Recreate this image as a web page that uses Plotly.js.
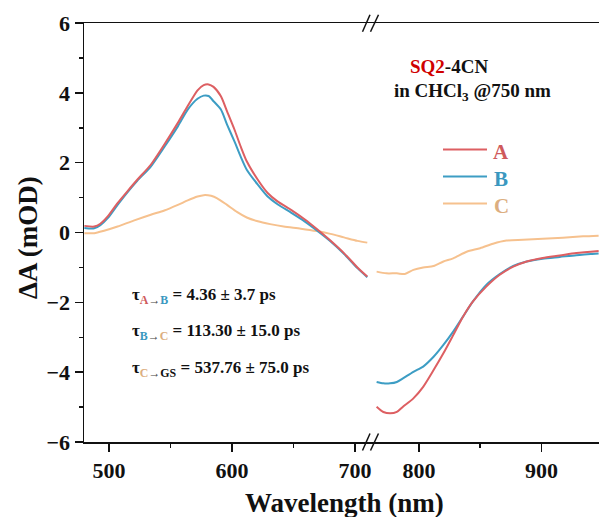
<!DOCTYPE html>
<html><head><meta charset="utf-8">
<script src="https://cdn.plot.ly/plotly-3.0.1.min.js"></script>
<style>html,body{margin:0;padding:0;background:#fff}#chart{width:599px;height:517px}</style>
</head><body><div id="chart"></div>
<script>
// ---- data ----
const seriesNames = ["A", "B", "C"];
const wlLeftAB = [480,488,493,499,507,515,523,534,545,556,564,572,577,581,585,591,596,602,607,612,621,629,637,648,659,669,680,691,702,710];
const aLeft = [0.19,0.17,0.25,0.46,0.84,1.18,1.51,1.94,2.52,3.14,3.62,4.07,4.22,4.24,4.17,3.90,3.47,2.95,2.47,2.04,1.51,1.13,0.89,0.65,0.38,0.10,-0.23,-0.59,-1.00,-1.26];
const bLeft = [0.13,0.12,0.21,0.41,0.79,1.15,1.48,1.89,2.45,3.04,3.52,3.83,3.92,3.91,3.76,3.52,3.09,2.61,2.18,1.80,1.37,1.03,0.81,0.57,0.32,0.06,-0.25,-0.61,-1.02,-1.28];
const wlLeftC = [480,488,496,507,520,534,545,556,564,572,577,583,588,596,604,612,621,631,642,656,669,680,691,702,710];
const cLeft = [-0.02,-0.02,0.05,0.17,0.34,0.51,0.63,0.79,0.92,1.03,1.07,1.05,0.98,0.79,0.59,0.43,0.32,0.24,0.17,0.11,0.04,-0.04,-0.14,-0.24,-0.29];
const wlRightAB = [765.5,771,776.5,782,787,795.5,803.5,812,820,828,836,844,855,866,877,888,901,915,928.5,946.7];
const aRight = [-4.99,-5.14,-5.18,-5.14,-4.99,-4.75,-4.42,-3.94,-3.46,-2.94,-2.41,-1.98,-1.55,-1.21,-0.98,-0.83,-0.73,-0.66,-0.59,-0.53];
const bRight = [-4.28,-4.32,-4.32,-4.28,-4.18,-3.99,-3.84,-3.56,-3.22,-2.84,-2.41,-1.98,-1.50,-1.19,-0.96,-0.83,-0.75,-0.70,-0.65,-0.60];
const wlRightC = [765.5,773.5,782,788.5,795.5,803.5,812,820,828,839,850,860.5,871.5,885,901,917.5,934,946.7];
const cRight = [-1.12,-1.17,-1.17,-1.19,-1.07,-1.00,-0.96,-0.83,-0.74,-0.55,-0.45,-0.32,-0.23,-0.21,-0.18,-0.15,-0.11,-0.09];
const yTickVals = [-6,-4,-2,0,2,4,6];
const xTickLeft = [500,600,700];
const xTickRight = [800,900];
const titleLine1 = "SQ2";
const titleLine1b = "-4CN";
const titleLine2 = "in CHCl<sub>3</sub> @750 nm";
const tauLines = [
  {from:"A", to:"B", text:" = 4.36 ± 3.7 ps"},
  {from:"B", to:"C", text:" = 113.30 ± 15.0 ps"},
  {from:"C", to:"GS", text:" = 537.76 ± 75.0 ps"}
];

// ---- styles ----
const lineCol = {A:"#dd5f62", B:"#3d9dc4", C:"#f6c18e"};
const labelCol = {A:"#cf5a5c", B:"#3a98c0", C:"#dcae80", GS:"#111"};
const FONT = "Liberation Serif, Times New Roman, serif";
const W = 599, H = 517, ML = 84, MR = 0, MT = 23, MB = 75;
const PW = W - ML - MR, PH = H - MT - MB;
const px = x => (x - ML) / PW;
const py = y => (H - MB - y) / PH;
const split = px(370);

function tr(x, y, name, xa) {
  return {x: x, y: y, type: "scatter", mode: "lines", xaxis: xa, yaxis: "y",
    line: {color: lineCol[name], width: 2, shape: "spline", smoothing: 0.7},
    hoverinfo: "skip", showlegend: false};
}
const data = [
  tr(wlLeftC, cLeft, "C", "x"), tr(wlLeftAB, bLeft, "B", "x"), tr(wlLeftAB, aLeft, "A", "x"),
  tr(wlRightC, cRight, "C", "x2"), tr(wlRightAB, bRight, "B", "x2"), tr(wlRightAB, aRight, "A", "x2")
];

const tickFont = {family: FONT, size: 22, color: "#111", weight: 700};
const axCommon = {showline: true, linecolor: "#111", linewidth: 1.5, ticks: "outside", ticklen: 8,
  tickwidth: 1.5, tickcolor: "#111", tickfont: tickFont, showgrid: false, zeroline: false, mirror: true};

const annotations = [];
const shapes = [];
function ann(text, x, y, size, opts) {
  annotations.push(Object.assign({text: text, x: px(x), y: py(y), xref: "paper", yref: "paper",
    showarrow: false, xanchor: "center", yanchor: "middle",
    font: {family: FONT, size: size, color: "#111", weight: 700}}, opts || {}));
}
ann("<span style='color:#d00000'>" + titleLine1 + "</span>" + titleLine1b, 449, 67, 19);
ann(titleLine2, 472, 92, 19);
// legend
const legY = [149.5, 176.5, 203.5];
seriesNames.forEach((n, i) => {
  shapes.push({type: "line", xref: "paper", yref: "paper", x0: px(443), x1: px(487), y0: py(legY[i]), y1: py(legY[i]),
    line: {color: lineCol[n], width: 2}});
  ann(n, 501, legY[i] + 2, 21, {font: {family: FONT, size: 21, color: labelCol[n], weight: 700}});
});
// lifetimes
const tauY = [296, 332, 369];
tauLines.forEach((t, i) => {
  const txt = "τ<sub><span style='color:" + labelCol[t.from] + "'>" + t.from + "</span><span style='color:#444'>→</span><span style='color:" + labelCol[t.to] + "'>" + t.to + "</span></sub>" + t.text;
  ann(txt, 130, tauY[i], 17, {xanchor: "left"});
});
// axis titles
ann("Wavelength (nm)", 344.5, 503, 27);
ann("ΔA (mOD)", 28, 238, 27, {textangle: -90});
// axis break marks
[[23.3], [442]].forEach(([yy]) => {
  [[362.5, 370], [370.5, 378.5]].forEach(([a, b]) => {
    shapes.push({type: "line", xref: "paper", yref: "paper", x0: px(a), x1: px(b),
      y0: py(yy + 8.5), y1: py(yy - 8.5), line: {color: "#111", width: 1.5}});
  });
});

const layout = {
  width: W, height: H, margin: {l: ML, r: MR, t: MT, b: MB, pad: 0},
  paper_bgcolor: "#fff", plot_bgcolor: "#fff", showlegend: false,
  xaxis: Object.assign({}, axCommon, {domain: [0, split], range: [479.7, 712.2], tickvals: xTickLeft,
    minor: {dtick: 50, ticks: "outside", ticklen: 4, tickwidth: 1.5, tickcolor: "#111"}, anchor: "y"}),
  xaxis2: Object.assign({}, axCommon, {domain: [split, 1], range: [760.1, 947], tickvals: xTickRight,
    minor: {dtick: 50, ticks: "outside", ticklen: 4, tickwidth: 1.5, tickcolor: "#111"}, anchor: "y"}),
  yaxis: Object.assign({}, axCommon, {range: [-6, 6], tickvals: yTickVals, mirror: false, anchor: "x",
    minor: {dtick: 1, ticks: "outside", ticklen: 4, tickwidth: 1.5, tickcolor: "#111"}}),
  annotations: annotations, shapes: shapes
};
Plotly.newPlot("chart", data, layout, {staticPlot: true, displayModeBar: false});
</script>
</body></html>
